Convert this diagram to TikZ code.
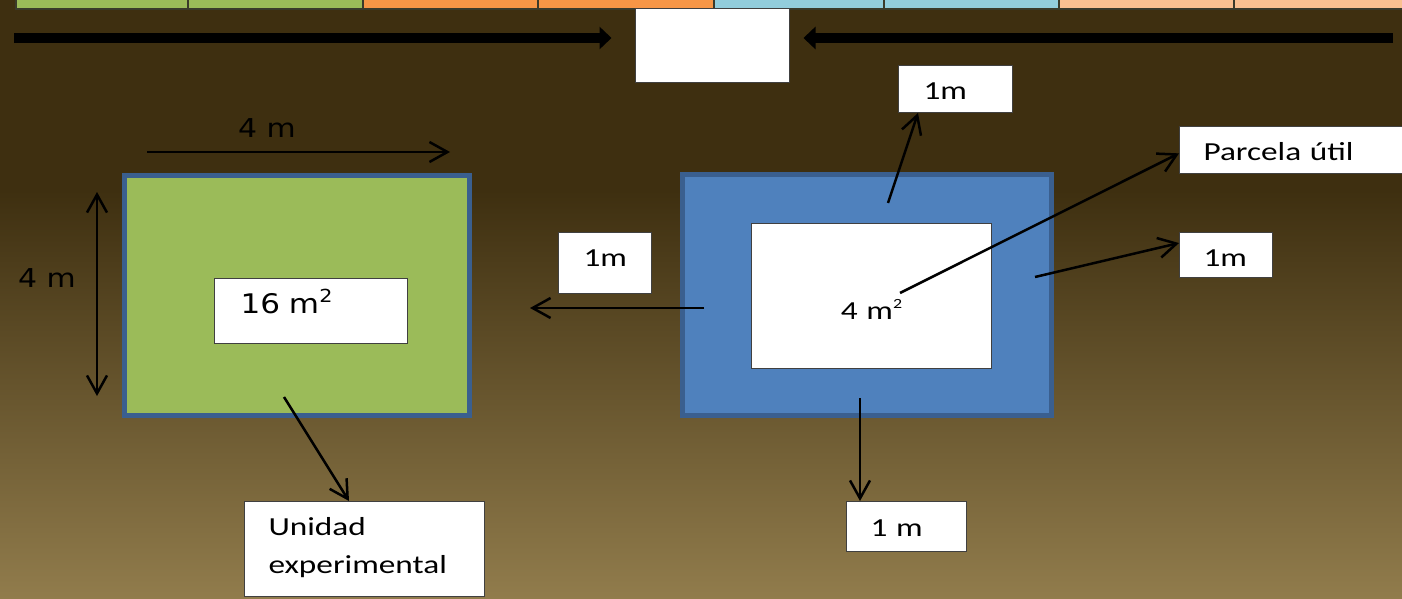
\documentclass[tikz,border=0pt]{standalone}
\usepackage{fontspec}
\newfontfamily\calfont[FakeStretch=1.28]{Carlito}
\newfontfamily\verfont[FakeStretch=1.15]{DejaVu Sans}
\usetikzlibrary{arrows.meta,calc}
\newcommand\mysup[3]{\raisebox{#2}{\fontsize{#1}{#1}\selectfont #3}}
\definecolor{bgtop}{HTML}{3E2F10}
\definecolor{bgbot}{HTML}{917C4C}
\definecolor{cgreen}{HTML}{9BBB59}
\definecolor{corange}{HTML}{F79646}
\definecolor{cblue}{HTML}{92CDDC}
\definecolor{cpeach}{HTML}{FAC090}
\definecolor{pblue}{HTML}{4F81BD}
\definecolor{pborder}{HTML}{3A5F8F}
\definecolor{boxline}{HTML}{404040}
\definecolor{cellline}{HTML}{3A3A2A}
\begin{document}
\begin{tikzpicture}[x=1pt,y=-1pt,
  cell/.style={draw=cellline,line width=1.5pt},
  lbl/.style={draw=boxline,fill=white,line width=1pt,inner ysep=0pt,align=left,anchor=north west,
     font=\calfont\fontsize{26}{38}\selectfont},
  plot/.style={draw=pborder,line width=5pt,inner sep=0pt},
  barb/.style={line width=2.5pt,-{Straight Barb[length=18pt,width=20pt,line width=2.5pt]}},
  bigarrow/.style={line width=10pt,-{Triangle[length=12pt,width=22pt]}},
  dimtext/.style={anchor=base west,inner sep=0pt,font=\verfont\fontsize{26}{30}\selectfont}
]
\useasboundingbox (0,0) rectangle (1402,599);
% background
\fill[bgtop] (0,0) rectangle (1402,190);
\shade[top color=bgtop,bottom color=bgbot] (0,190) rectangle (1402,599);
% top strip of cells
\foreach \xa/\xb/\c in {16/188/cgreen,188/363/cgreen,363/538/corange,538/714/corange,714/884/cblue,884/1059/cblue,1059/1234/cpeach,1234/1410/cpeach}
  \draw[cell,fill=\c] (\xa,-5) rectangle (\xb,9);
% top white box and big arrows
\node[draw=boxline,fill=white,line width=1pt,minimum width=154pt,minimum height=74pt,inner sep=0pt] (tb) at (712,46) {};
\coordinate (bl) at (14,38);
\coordinate (br) at (1393,38);
\draw[bigarrow,shorten >=23pt] (bl) -- (bl -| tb.west);
\draw[bigarrow,shorten >=14pt] (br) -- (br -| tb.east);
% green plot
\node[plot,fill=cgreen,minimum width=345pt,minimum height=240pt] (gp) at (297,295.5) {};
\node[lbl,inner xsep=26pt,text width=141pt,text height=35pt,text depth=30pt,font=\verfont\fontsize{27}{32}\selectfont] (b16) at (214,278) {16 m\mysup{18}{11pt}{2}};
% dimension labels
\node[dimtext] (lw) at (238,137) {4 m};
\node[dimtext] (lh) at (18,287) {4 m};
\coordinate (w1) at (147,152);
\coordinate (w2) at (450,152);
\draw[barb] (w1) -- (w2);
\coordinate (h1) at (97,192);
\coordinate (h2) at (97,396);
\draw[line width=2.5pt,{Straight Barb[length=18pt,width=20pt,line width=2.5pt]}-{Straight Barb[length=18pt,width=20pt,line width=2.5pt]}] (h1) -- (h2);
% blue plot
\node[plot,fill=pblue,minimum width=369pt,minimum height=241pt] (bp) at (867,295) {};
\node[lbl,inner xsep=0pt,text width=240pt,align=center,text height=96pt,text depth=49pt] (pu4) at (751,223) {4 m\mysup{14}{11pt}{2}};
% label boxes
\node[lbl,inner xsep=25pt,text width=64pt,text height=34pt,text depth=13pt] (m1) at (898,65) {1m};
\node[lbl,inner xsep=24pt,text width=200pt,text height=34pt,text depth=13pt] (pu) at (1179,126) {Parcela útil};
\node[lbl,inner xsep=24pt,text width=45pt,text height=34pt,text depth=11pt] (mr) at (1179,232) {1m};
\node[lbl,inner xsep=25pt,text width=43pt,text height=34pt,text depth=27pt] (ml) at (558,232) {1m};
\node[lbl,inner xsep=24pt,text width=72pt,text height=35pt,text depth=15pt] (mb) at (846,501) {1 m};
\node[lbl,inner xsep=24pt,text width=192pt,text height=34pt,text depth=61pt] (ue) at (244,501) {Unidad\\experimental};
% connectors
\coordinate (s1) at (888,203);
\draw[barb] (s1) -- ($(m1.south west)+(20,0)$);
\coordinate (s2) at (900,293);
\draw[barb] (s2) -- ($(pu.north west)!0.57!(pu.south west)$);
\coordinate (s3) at (1035,277);
\draw[barb] (s3) -- ($(mr.north west)!0.24!(mr.south west)$);
\coordinate (s4) at (704,308);
\coordinate (e4) at (530,308);
\draw[barb] (s4) -- (e4);
\coordinate (s5) at (860,398);
\draw[barb] (s5) -- (s5 |- mb.north);
\coordinate (s6) at (284,397);
\draw[barb] (s6) -- ($(ue.north west)+(105,0)$);
\end{tikzpicture}
\end{document}
